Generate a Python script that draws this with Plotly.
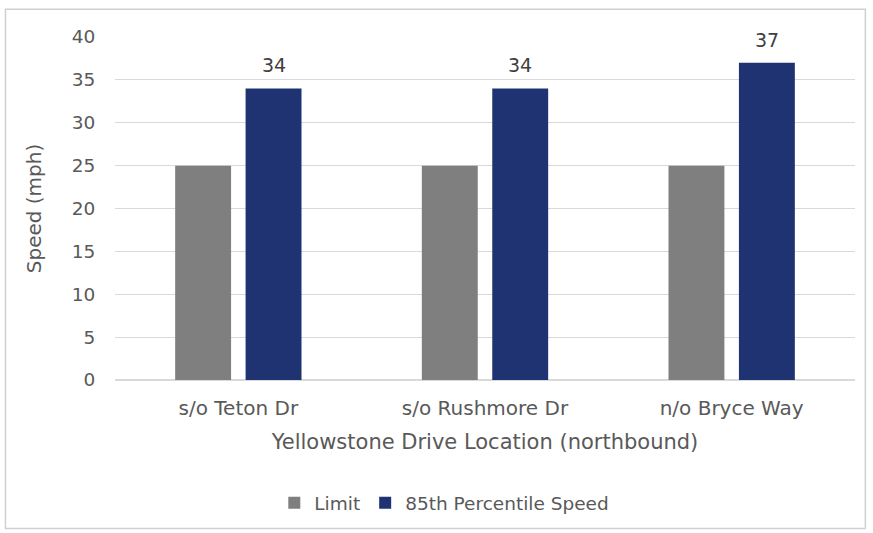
import plotly.graph_objects as go

categories = ["s/o Teton Dr", "s/o Rushmore Dr", "n/o Bryce Way"]
limit = [25, 25, 25]
p85 = [34, 34, 37]
series_names = ["Limit", "85th Percentile Speed"]
yticks = [0, 5, 10, 15, 20, 25, 30, 35, 40]

FONT = "DejaVu Sans, Liberation Sans, Arial, sans-serif"
TXT = "#595959"

BARGAP = 0.429
BARGROUPGAP = 0.206
PLOT_W = 741
cat_w = PLOT_W / len(categories)
slot = cat_w * (1 - BARGAP) / 2

fig = go.Figure()
fig.add_trace(go.Bar(x=categories, y=limit, name=series_names[0],
                     marker=dict(color="#7f7f7f", line=dict(width=0))))
fig.add_trace(go.Bar(x=categories, y=p85, name=series_names[1],
                     marker=dict(color="#1f3372", line=dict(width=0))))

for c, v in zip(categories, p85):
    fig.add_annotation(x=c, y=v, xref="x", yref="y", text=str(v), showarrow=False,
                       yanchor="bottom", xanchor="center", xshift=slot / 2, yshift=10,
                       font=dict(size=19, color="#404040", family=FONT))

fig.update_layout(
    width=873, height=533,
    margin=dict(l=114.5, r=17.5, t=37, b=152),
    paper_bgcolor="white", plot_bgcolor="white",
    barmode="group", bargap=BARGAP, bargroupgap=BARGROUPGAP,
    font=dict(family=FONT, color=TXT, size=18),
    showlegend=True,
    legend=dict(orientation="h", x=0.445, xanchor="center", y=-0.355, yanchor="middle",
                font=dict(size=18.5, color=TXT, family=FONT), itemwidth=30,
                traceorder="normal"),
    xaxis=dict(showgrid=False, showline=False, ticks="outside", ticklen=10,
               tickcolor="rgba(0,0,0,0)", tickfont=dict(size=20, color=TXT),
               title=dict(text="Yellowstone Drive Location (northbound)",
                          font=dict(size=21, color=TXT), standoff=15)),
    yaxis=dict(range=[0, 40], tickvals=yticks, showgrid=True, gridcolor="#d9d9d9",
               gridwidth=1, zeroline=True, zerolinecolor="#d9d9d9", showline=False,
               ticks="outside", ticklen=15, tickcolor="rgba(0,0,0,0)",
               tickfont=dict(size=18.5, color=TXT),
               title=dict(text="Speed (mph)", font=dict(size=20, color=TXT), standoff=24)),
    shapes=[dict(type="rect", xref="paper", yref="paper",
                 x0=-0.148, x1=1.014, y0=-0.433, y1=1.081,
                 line=dict(color="#d0d0d0", width=1.5), fillcolor="rgba(0,0,0,0)",
                 layer="below")],
)

fig.write_html("out.html")
